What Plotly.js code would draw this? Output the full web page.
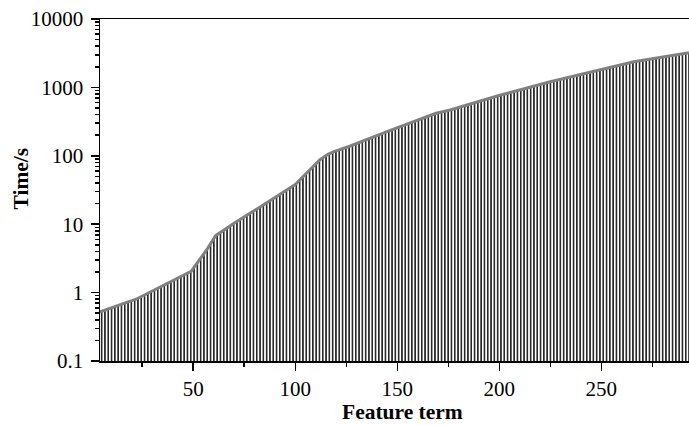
<!DOCTYPE html>
<html>
<head>
<meta charset="utf-8">
<script src="https://cdn.plot.ly/plotly-3.0.1.min.js"></script>
<style>html,body{margin:0;padding:0;background:#fff;}#chart{width:689px;height:425px;}</style>
</head>
<body>
<div id="chart"></div>
<script>
// Data (feature term vs time in seconds)
const featureTerm = [4, 22, 49, 57, 61, 70, 83, 96, 100, 112, 116, 119, 127, 145, 169, 176, 192, 199, 225, 266, 293];
const timeSec     = [0.52, 0.8, 2.05, 4.4, 6.8, 10.3, 18, 32, 38, 87, 105, 115, 139, 225, 418, 468, 655, 748, 1211, 2376, 3217];
const baseLevel = 0.1;

const yTickVals = [0.1, 1, 10, 100, 1000, 10000];
const yTickText = ['0.1', '1', '10', '100', '1000', '10000'];
const xTickVals = [50, 100, 150, 200, 250];
const xTickText = ['50', '100', '150', '200', '250'];
const xMinorVals = [25, 75, 125, 175, 225, 275];
const xTitle = 'Feature term';
const yTitle = 'Time/s';

const yMinor = [];
for (let d = -1; d < 4; d++) for (let m = 2; m <= 9; m++) yMinor.push(m * Math.pow(10, d));

const baseTrace = {
  x: [featureTerm[0], featureTerm[featureTerm.length - 1]],
  y: [baseLevel, baseLevel],
  mode: 'lines', line: {width: 0, color: 'rgba(0,0,0,0)'},
  hoverinfo: 'skip', showlegend: false
};
const mainTrace = {
  x: featureTerm, y: timeSec,
  mode: 'lines', fill: 'tonexty',
  fillcolor: 'white',
  fillpattern: {shape: '|', size: 3.3, solidity: 0.42, fgcolor: '#000', bgcolor: '#fff', fillmode: 'replace'},
  line: {color: '#808080', width: 3},
  showlegend: false
};

const fam = '"Liberation Serif", "Times New Roman", serif';
const font = {family: fam, color: '#000', size: 21};
const titleFont = {family: fam, color: '#000', size: 21.5};
const layout = {
  width: 689, height: 425,
  margin: {l: 100, r: 0, t: 19, b: 64},
  paper_bgcolor: '#fff', plot_bgcolor: '#fff',
  font: font,
  showlegend: false,
  xaxis: {
    range: [4.3, 293], showgrid: false, zeroline: false,
    showline: true, linecolor: '#000', linewidth: 1.5, mirror: true,
    ticks: 'outside', ticklen: 8, tickwidth: 1.5, tickcolor: '#000',
    tickmode: 'array', tickvals: xTickVals, ticktext: xTickText,
    minor: {tickmode: 'array', tickvals: xMinorVals, ticks: 'outside', ticklen: 4, tickwidth: 1.5, tickcolor: '#000', showgrid: false},
    tickfont: font
  },
  yaxis: {
    type: 'log', range: [-1, 4], showgrid: false, zeroline: false,
    showline: true, linecolor: '#000', linewidth: 1.5, mirror: false,
    ticks: 'outside', ticklen: 8, tickwidth: 1.5, tickcolor: '#000',
    tickmode: 'array', tickvals: yTickVals, ticktext: yTickText,
    minor: {tickmode: 'array', tickvals: yMinor, ticks: 'outside', ticklen: 4, tickwidth: 1.5, tickcolor: '#000', showgrid: false},
    tickfont: font, ticklabelstandoff: 3
  },
  annotations: [
    {text: '<b>' + xTitle + '</b>', xref: 'paper', yref: 'paper', x: 0.5144, y: -0.148,
     xanchor: 'center', yanchor: 'middle', showarrow: false, font: titleFont, borderpad: 0},
    {text: '<b>' + yTitle + '</b>', xref: 'paper', yref: 'paper', x: -0.1333, y: 0.535,
     xanchor: 'center', yanchor: 'middle', textangle: -90, showarrow: false, font: titleFont}
  ]
};
Plotly.newPlot('chart', [baseTrace, mainTrace], layout, {staticPlot: true, displayModeBar: false});
</script>
</body>
</html>
